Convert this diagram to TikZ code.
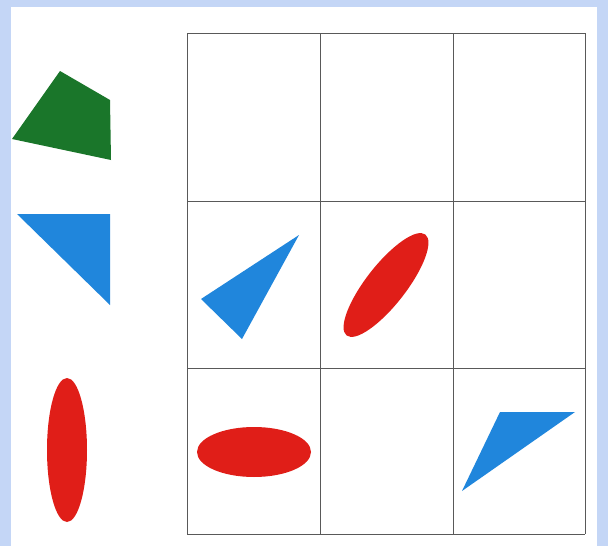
\documentclass[tikz,border=0pt]{standalone}
\definecolor{fond}{RGB}{196,214,246}
\definecolor{vert}{RGB}{26,118,42}
\definecolor{bleu}{RGB}{32,134,220}
\definecolor{rouge}{RGB}{224,30,24}
\begin{document}
\begin{tikzpicture}[x=0.05cm,y=-0.05cm,
trait/.style={draw=black!65,line width=0.9pt}]

\fill[fond] (0,0) rectangle (608,546);
\useasboundingbox (0,0) rectangle (608,546);

\fill[white] (11,7) rectangle (597,546);

\foreach \x in {187,320,453,585}
\draw[trait] (\x,33)--(\x,534);

\foreach \y in {33,201,368,534}
\draw[trait] (187,\y)--(585,\y);

\fill[vert]
(60,71)--(110,100)--(111,160)--(12,139)--cycle;

\fill[bleu]
(17,214)--(110,214)--(110,305)--cycle;

\fill[rouge] (67,450) ellipse [x radius=20,y radius=72];

\fill[bleu]
(201,299)--(299,235)--(242,339)--cycle;

\fill[rouge,rotate around={52:(386,285)}]
(386,285) ellipse [x radius=64,y radius=20];

\fill[rouge] (254,452) ellipse [x radius=57,y radius=25];

\fill[bleu]
(500,412)--(575,412)--(462,491)--cycle;

\end{tikzpicture}
\end{document}
